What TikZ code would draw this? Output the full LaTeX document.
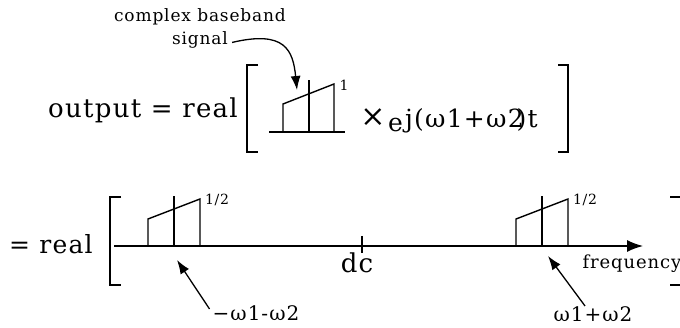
\documentclass[tikz,border=0pt]{standalone}
\usepackage{fontspec}
\setmainfont{DejaVu Serif}[LetterSpace=5]
\usetikzlibrary{arrows.meta,positioning}

\begin{document}
\begin{tikzpicture}[
  x=1pt, y=-1pt,
  txt/.style={inner sep=0pt, font=\fontsize{#1}{#1}\selectfont},
  txt/.default=26,
  ln/.style={line width=1.4pt, black},
  brk/.style={line width=1.4pt, black},
  arr/.style={-{Latex[length=14pt, width=10pt]}, line width=1.3pt, black},
  axis/.style={-{Latex[length=16pt, width=12pt]}, line width=1.4pt, black},
]
\useasboundingbox (0,0) rectangle (680,328);
% label and pointer
\node[txt=17, anchor=base] (cbtop) at (200,22) {complex baseband};
\node[txt=17, anchor=base] (cbsig) at (200,45) {signal};
\coordinate (bbtip) at (297,90);
\draw[arr] ([xshift=4pt, yshift=-2pt]cbsig.east) .. controls (285,30) and (293,50) .. (bbtip);
% first line
\node[txt=26, anchor=base west] (out) at (48,118) {output = real};
\draw[brk] (258,65) -- (247,65) -- (247,152) -- (258,152);
\draw[brk] (558,65) -- (568,65) -- (568,152) -- (558,152);
\draw[ln] (269,132) -- (345,132);
\draw[ln] (283,132) -- (283,104) -- (334,84) -- (334,132);
\draw[ln] (309,132) -- (309,80);
\node[txt=14] (one) at (344,85) {1};
\node[txt=30] (times) at (373,118) {×};
\node[txt=25, anchor=base west] (ee) at (388,132) {e};
\node[txt=25, anchor=base west] (expo) at (405,128) {j(ω1+ω2\kern-7pt)t};
% second line
\node[txt=25, anchor=base west] (real) at (9,254) {= real};
\draw[brk] (121,197) -- (110,197) -- (110,285) -- (121,285);
\draw[brk] (670,197) -- (681,197) -- (681,285) -- (670,285);
\coordinate (ax0) at (114,246);
\coordinate (ax1) at (643,246);
\draw[axis] (ax0) -- (ax1);
\draw[ln] (362,236) -- (362,253);
\node[txt=26, anchor=base] (dc) at (357,273) {dc};
\node[txt=18, anchor=base] (freq) at (632,269) {frequency};
% shifted spectra
\foreach \s/\n in {148/lh, 516/rh} {
  \draw[ln] (\s,246) -- (\s,219) -- (\s+52,199) -- (\s+52,246);
  \draw[ln] (\s+26,246) -- (\s+26,196);
  \node[txt=14] (\n) at (\s+69,200) {1/2};
}
% frequency labels
\node[txt=20, anchor=base] (lneg) at (256,321) {−ω1-ω2};
\node[txt=20, anchor=base] (lpos) at (593,322) {ω1+ω2};
\coordinate (nfreq) at (177,260);
\coordinate (pfreq) at (548,256);
\draw[arr] ([xshift=-3pt, yshift=-3pt]lneg.north west) -- (nfreq);
\draw[arr] ([xshift=-8pt, yshift=1pt]lpos.north) -- (pfreq);
\end{tikzpicture}
\end{document}
